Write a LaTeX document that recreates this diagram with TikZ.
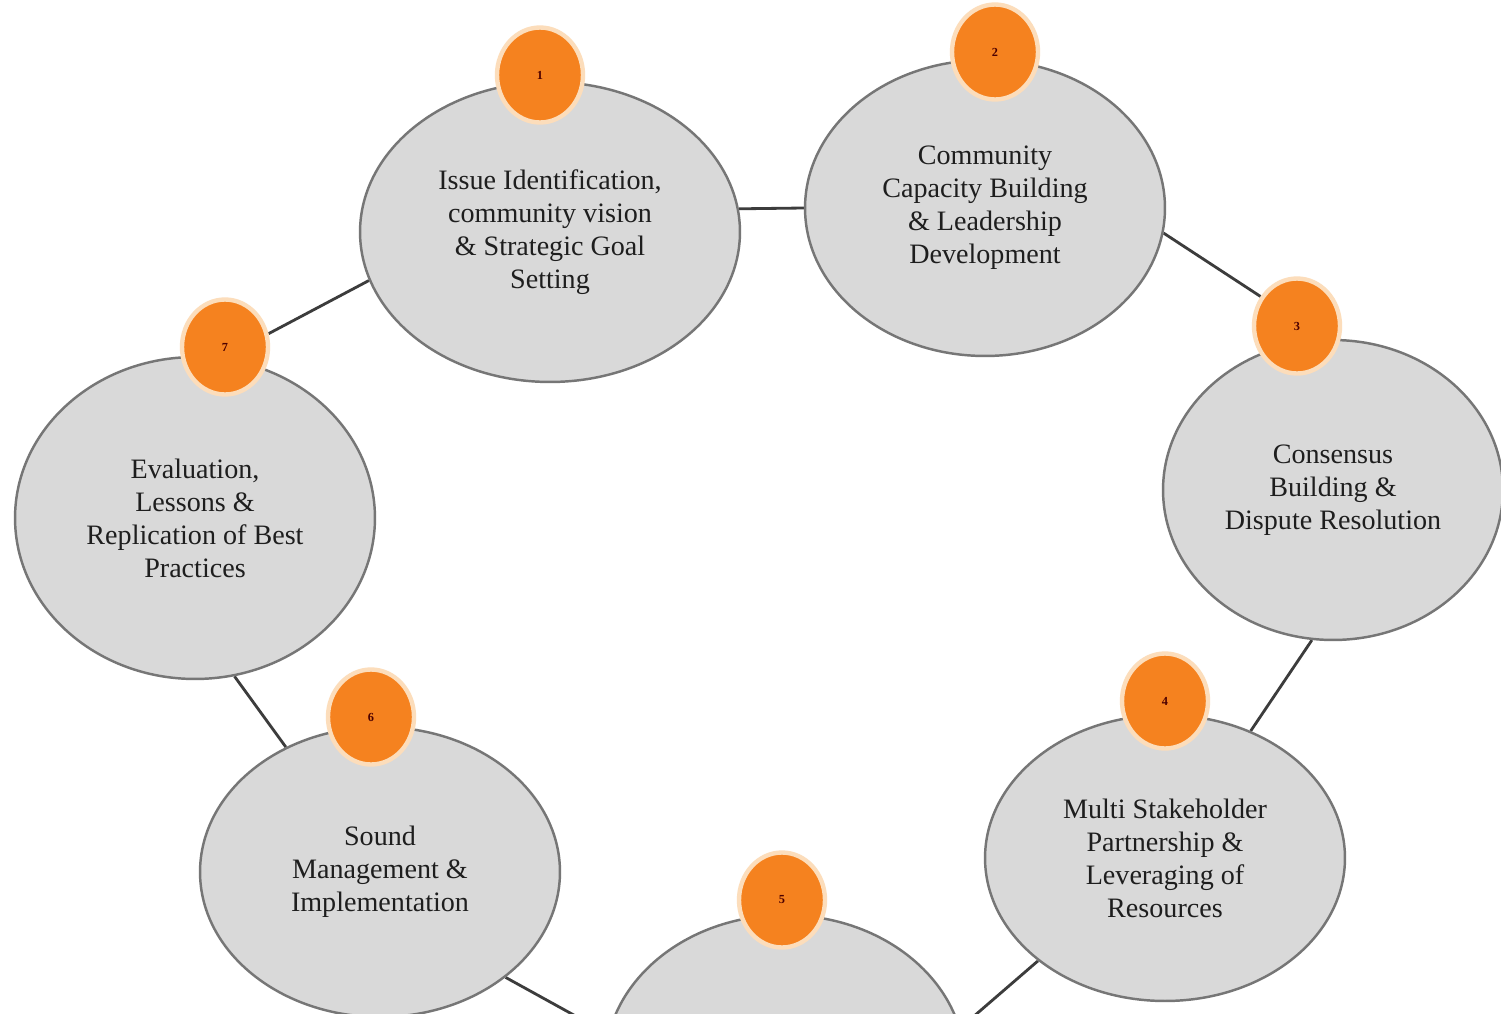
\documentclass[tikz,border=0pt]{standalone}
\usepackage{fontspec}
\setmainfont{Liberation Serif}
\usetikzlibrary{shapes.geometric,backgrounds}
\definecolor{stagefill}{HTML}{D9D9D9}
\definecolor{stageline}{HTML}{767676}
\definecolor{badgefill}{HTML}{F5821F}
\definecolor{badgehalo}{HTML}{FCDDBB}
\definecolor{labeltext}{HTML}{1E1E1E}
\definecolor{linkline}{HTML}{3C3C3C}
\tikzset{
  stage/.style={ellipse, draw=stageline, fill=stagefill, line width=1.4pt,
    inner sep=0pt, align=center, text=labeltext,
    font=\fontsize{16}{18.8}\selectfont},
  badge/.style={ellipse, draw=badgehalo, fill=badgefill, line width=2.5pt,
    minimum width=1.72cm, minimum height=1.9cm, inner sep=0pt,
    text=black!70!red, font=\fontsize{7}{8}\selectfont\bfseries},
  link/.style={draw=linkline, line width=1.6pt}
}
\begin{document}
\begin{tikzpicture}[x=0.02cm,y=-0.02cm]
\useasboundingbox (0,0) rectangle (1501,1014);
\clip (0,0) rectangle (1501,1014);

% the seven stages of the cycle
\node[stage, minimum width=7.6cm, minimum height=6.0cm] (e1) at (550,232)
  {Issue Identification,\\community vision\\\& Strategic Goal\\Setting};
\node[stage, minimum width=7.2cm, minimum height=5.92cm] (e2) at (985,208)
  {Community\\Capacity Building\\\& Leadership\\Development};
\node[stage, minimum width=6.8cm, minimum height=6.0cm] (e3) at (1333,490)
  {Consensus\\Building \&\\Dispute Resolution};
\node[stage, minimum width=7.2cm, minimum height=5.72cm] (e4) at (1165,858)
  {Multi Stakeholder\\Partnership \&\\Leveraging of\\Resources};
\node[stage, minimum width=7.2cm, minimum height=6.0cm] (e5) at (785,1065) {};
\node[stage, minimum width=7.2cm, minimum height=5.8cm] (e6) at (380,872)
  {Sound\\Management \&\\Implementation};
\node[stage, minimum width=7.2cm, minimum height=6.44cm] (e7) at (195,518)
  {Evaluation,\\Lessons \&\\Replication of Best\\Practices};

% numbered badges
\node[badge] (c1) at (540,75) {1};
\node[badge] (c2) at (995,52) {2};
\node[badge] (c3) at (1297,326) {3};
\node[badge] (c4) at (1165,701) {4};
\node[badge] (c5) at (782,900) {5};
\node[badge] (c6) at (371,717) {6};
\node[badge] (c7) at (225,347) {7};

% white page, then the links between neighbouring stages behind the stages
\begin{scope}[on background layer]
\fill[white] (0,0) rectangle (1501,1014);
\draw[link] (e1.7.5) -- (e2.west);
\draw[link] (e2.352) -- (c3.141);
\draw[link] (e3.262) -- (e4.56);
\draw[link] (e4.219) -- (e5.12);
\draw[link] (e6.320) -- (e5.170);
\draw[link] (e7.284) -- (e6.127);
\draw[link] (c7.17) -- (e1.195);
\end{scope}
\end{tikzpicture}
\end{document}
